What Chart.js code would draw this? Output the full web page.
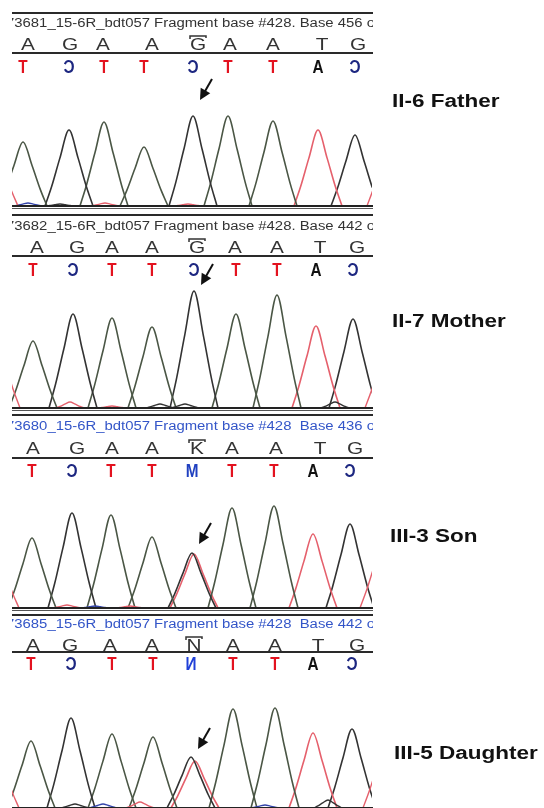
<!DOCTYPE html>
<html><head><meta charset="utf-8">
<script src="https://cdn.jsdelivr.net/npm/chart.js@4/dist/chart.umd.min.js"></script>
<style>
html,body{margin:0;padding:0;background:#fff;overflow:hidden}
#wrap{position:relative;width:544px;height:808px;overflow:hidden;background:#fff}
canvas{position:absolute;left:0}
</style></head><body><div id="wrap"></div>
<script>
// ================= DATA =================
const sampleLabels = ["II-6 Father", "II-7 Mother", "III-3 Son", "III-5 Daughter"];
const headerTexts = [
  "73681_15-6R_bdt057 Fragment base #428. Base 456 of",
  "73682_15-6R_bdt057 Fragment base #428. Base 442 of",
  "73680_15-6R_bdt057 Fragment base #428  Base 436 of",
  "73685_15-6R_bdt057 Fragment base #428  Base 442 of"
];
const baseCalls = [
  ["A","G","A","A","G","A","A","T","G"],
  ["A","G","A","A","G","A","A","T","G"],
  ["A","G","A","A","K","A","A","T","G"],
  ["A","G","A","A","N","A","A","T","G"]
];
const complementCalls = [
  ["T","Ɔ","T","T","Ɔ","T","T","A","Ɔ"],
  ["T","Ɔ","T","T","Ɔ","T","T","A","Ɔ"],
  ["T","Ɔ","T","T","M","T","T","A","Ɔ"],
  ["T","Ɔ","T","T","И","T","T","A","Ɔ"]
];
const mutantIndex = 4;
// base-call label positions (trace scan units)
const callPos1 = [16, 58, 91, 140, 186, 218, 261, 310, 346];
const callPos2 = [25, 65, 100, 140, 185, 223, 265, 308, 345];
const callPos3 = [21, 65, 100, 140, 185, 220, 264, 308, 343];
const callPos4 = [21, 58, 98, 140, 182, 221, 263, 306, 345];
// main peaks: position (scan units), height (relative fluorescence), dye channel
const peakPos1 = [11, 57, 92, 132, 181, 216, 261, 306, 343];
const peakHeight1 = [64, 76, 84, 59, 90, 90, 85, 76, 71];
const peakPos2 = [21, 61, 100, 140, 182, 224, 265, 304, 341];
const peakHeight2 = [67, 94, 90, 81, 117, 94, 113, 82, 89];
const peakPos3 = [20, 60, 99, 140, 180, 220, 262, 301, 338];
const peakHeight3 = [70, 95, 93, 71, 55, 100, 102, 74, 84];
const peakPos4 = [19, 59, 100, 141, 179, 221, 263, 301, 340];
const peakHeight4 = [67, 90, 74, 71, 51, 99, 100, 75, 79];
const peakDye = ["A","G","A","A","G","A","A","T","G"];
// second allele peaks at the mutant site (heterozygous G/T)
const hetPos = [null, null, 182, 183];
const hetHeight = [null, null, 54, 47];
const hetDye = [null, null, "T", "T"];
// edge and background peaks
const minorPos1 = [-18, 16, 48, 93, 176, 379];
const minorHeight1 = [60, 3, 2, 3, 2, 70];
const minorDye1 = ["T","C","G","T","T","T"];
const minorPos2 = [-16, 58, 100, 148, 173, 323, 377];
const minorHeight2 = [70, 6, 2, 4, 4, 6, 70];
const minorDye2 = ["T","T","T","G","G","G","T"];
const minorPos3 = [-17, 55, 83, 118, 372];
const minorHeight3 = [60, 3, 2, 2, 70];
const minorDye3 = ["T","T","C","T","T"];
const minorPos4 = [-17, 63, 91, 128, 253, 316, 375];
const minorHeight4 = [60, 4, 4, 6, 3, 8, 70];
const minorDye4 = ["T","G","C","T","C","G","T"];
// arrow tip heights (relative fluorescence units) above the mutant peak
const arrowTip = [106, 123, 64, 59];

// ================= STYLE / LAYOUT =================
const dyeColor = { A: "#4a5645", C: "#3344aa", G: "#333333", T: "#e5606c" };
const compColor = { "T": "#e3121f", "Ɔ": "#1c2680", "A": "#111111", "M": "#2040c0", "И": "#2040d8" };
const headerColor = ["#333333", "#333333", "#3355c8", "#3355c8"];
const PROFILE = [[-1,0],[-0.72,0.26],[-0.38,0.63],[0,1],[0.38,0.63],[0.72,0.26],[1,0]];
const MAIN_HW = 24, MINOR_HW = 14;
const panelTop = [0, 202, 402, 602];
const geom = [
  { rule1: 13, text: 22, bases: 44, rule2: 53, comp: 66, label: 102 },
  { rule1: 13, text: 23, bases: 45, rule2: 54, comp: 67, label: 120 },
  { rule1: 13, text: 23, bases: 46, rule2: 56, comp: 68, label: 135 },
  { rule1: 13, text: 21, bases: 43, rule2: 50, comp: 61, label: 152 }
];
const labelX = [392, 392, 390, 394];

const callPos = [callPos1, callPos2, callPos3, callPos4];
const peakPos = [peakPos1, peakPos2, peakPos3, peakPos4];
const peakHeight = [peakHeight1, peakHeight2, peakHeight3, peakHeight4];
const minorPos = [minorPos1, minorPos2, minorPos3, minorPos4];
const minorHeight = [minorHeight1, minorHeight2, minorHeight3, minorHeight4];
const minorDye = [minorDye1, minorDye2, minorDye3, minorDye4];

function peakDataset(pos, h, dye, hw, width) {
  return {
    data: PROFILE.map(([u, v]) => ({ x: pos + u * hw, y: v * h })),
    borderColor: dyeColor[dye], borderWidth: width, pointRadius: 0,
    cubicInterpolationMode: "monotone", fill: false
  };
}

function stretched(ctx, text, x, y, sx, align) {
  ctx.save(); ctx.translate(x, y); ctx.scale(sx, 1);
  ctx.textAlign = align; ctx.fillText(text, 0, 0); ctx.restore();
}

const tracePlugin = {
  id: "traceDecor",
  afterDatasetsDraw(chart) {
    const i = chart.options.plugins.traceDecor.panel;
    const g = geom[i];
    const ctx = chart.ctx, xs = chart.scales.x, ys = chart.scales.y;
    const L = xs.left, R = xs.right + 1;
    ctx.save();
    ctx.beginPath(); ctx.rect(L, 0, R - L, chart.height); ctx.clip();
    ctx.fillStyle = "#2a2a2a";
    ctx.fillRect(L, g.rule1 - 1, R - L, 2);
    ctx.fillRect(L, g.rule2 - 1, R - L, 2);
    // header text
    ctx.fillStyle = headerColor[i];
    ctx.font = '12px "Liberation Sans", Arial, sans-serif';
    ctx.textBaseline = "alphabetic";
    stretched(ctx, headerTexts[i], L - 6, g.text + 4.5, 1.24, "left");
    // base calls
    ctx.fillStyle = "#333";
    ctx.font = '16px "Liberation Sans", Arial, sans-serif';
    callPos[i].forEach((p, k) => {
      stretched(ctx, baseCalls[i][k], xs.getPixelForValue(p), g.bases + 6, 1.3, "center");
    });
    // overline bracket on the base under review
    const cx = xs.getPixelForValue(callPos[i][mutantIndex]);
    const oy = g.bases - 8;
    ctx.strokeStyle = "#333"; ctx.lineWidth = 1.5;
    ctx.beginPath();
    ctx.moveTo(cx - 8, oy + 3); ctx.lineTo(cx - 8, oy); ctx.lineTo(cx + 8, oy); ctx.lineTo(cx + 8, oy + 2);
    ctx.stroke();
    // complement calls
    ctx.font = 'bold 18px "Liberation Sans", Arial, sans-serif';
    peakPos[i].forEach((p, k) => {
      const c = complementCalls[i][k];
      ctx.fillStyle = compColor[c];
      stretched(ctx, c, xs.getPixelForValue(p), g.comp + 6.5, 0.85, "center");
    });
    // baseline
    const y0 = ys.getPixelForValue(0);
    ctx.fillStyle = "#222";
    ctx.fillRect(L, y0 - 1, R - L, 2);
    ctx.fillStyle = "#555";
    ctx.fillRect(L, y0 + 2, R - L, 1);
    // arrow
    const tx = xs.getPixelForValue(peakPos[i][mutantIndex]) + 7;
    const ty = ys.getPixelForValue(arrowTip[i]);
    const dx = 12, dy = -21, len = Math.hypot(dx, dy);
    const ux = dx / len, uy = dy / len, px = -uy, py = ux;
    ctx.strokeStyle = "#111"; ctx.lineWidth = 2;
    ctx.beginPath(); ctx.moveTo(tx + ux * 6, ty + uy * 6); ctx.lineTo(tx + dx, ty + dy); ctx.stroke();
    ctx.fillStyle = "#111";
    ctx.beginPath();
    ctx.moveTo(tx, ty);
    ctx.lineTo(tx + ux * 11 + px * 5.5, ty + uy * 11 + py * 5.5);
    ctx.lineTo(tx + ux * 11 - px * 5.5, ty + uy * 11 - py * 5.5);
    ctx.closePath(); ctx.fill();
    ctx.restore();
    // sample label
    ctx.save();
    ctx.fillStyle = "#111";
    ctx.font = 'bold 18px "Liberation Sans", Arial, sans-serif';
    ctx.textBaseline = "middle";
    stretched(ctx, sampleLabels[i], labelX[i], g.label, 1.25, "left");
    ctx.restore();
  }
};

const wrap = document.getElementById("wrap");
for (let i = 0; i < 4; i++) {
  const cv = document.createElement("canvas");
  cv.width = 544; cv.height = 210;
  cv.style.top = panelTop[i] + "px";
  wrap.appendChild(cv);
  const datasets = [];
  minorPos[i].forEach((p, k) => {
    const edge = minorHeight[i][k] > 20;
    datasets.push(peakDataset(p, minorHeight[i][k], minorDye[i][k], edge ? MAIN_HW : MINOR_HW, 1.4));
  });
  peakPos[i].forEach((p, k) => datasets.push(peakDataset(p, peakHeight[i][k], peakDye[k], MAIN_HW, 1.6)));
  if (hetPos[i] !== null) datasets.push(peakDataset(hetPos[i], hetHeight[i], hetDye[i], MAIN_HW, 1.6));
  new Chart(cv, {
    type: "line",
    data: { datasets },
    options: {
      responsive: false, animation: false, devicePixelRatio: 1,
      layout: { padding: { left: 12, right: 172, top: 76, bottom: 4 } },
      scales: {
        x: { type: "linear", min: 0, max: 360, display: false },
        y: { min: 0, max: 130, display: false }
      },
      plugins: { legend: { display: false }, tooltip: { enabled: false }, traceDecor: { panel: i } }
    },
    plugins: [tracePlugin]
  });
}
</script></body></html>
